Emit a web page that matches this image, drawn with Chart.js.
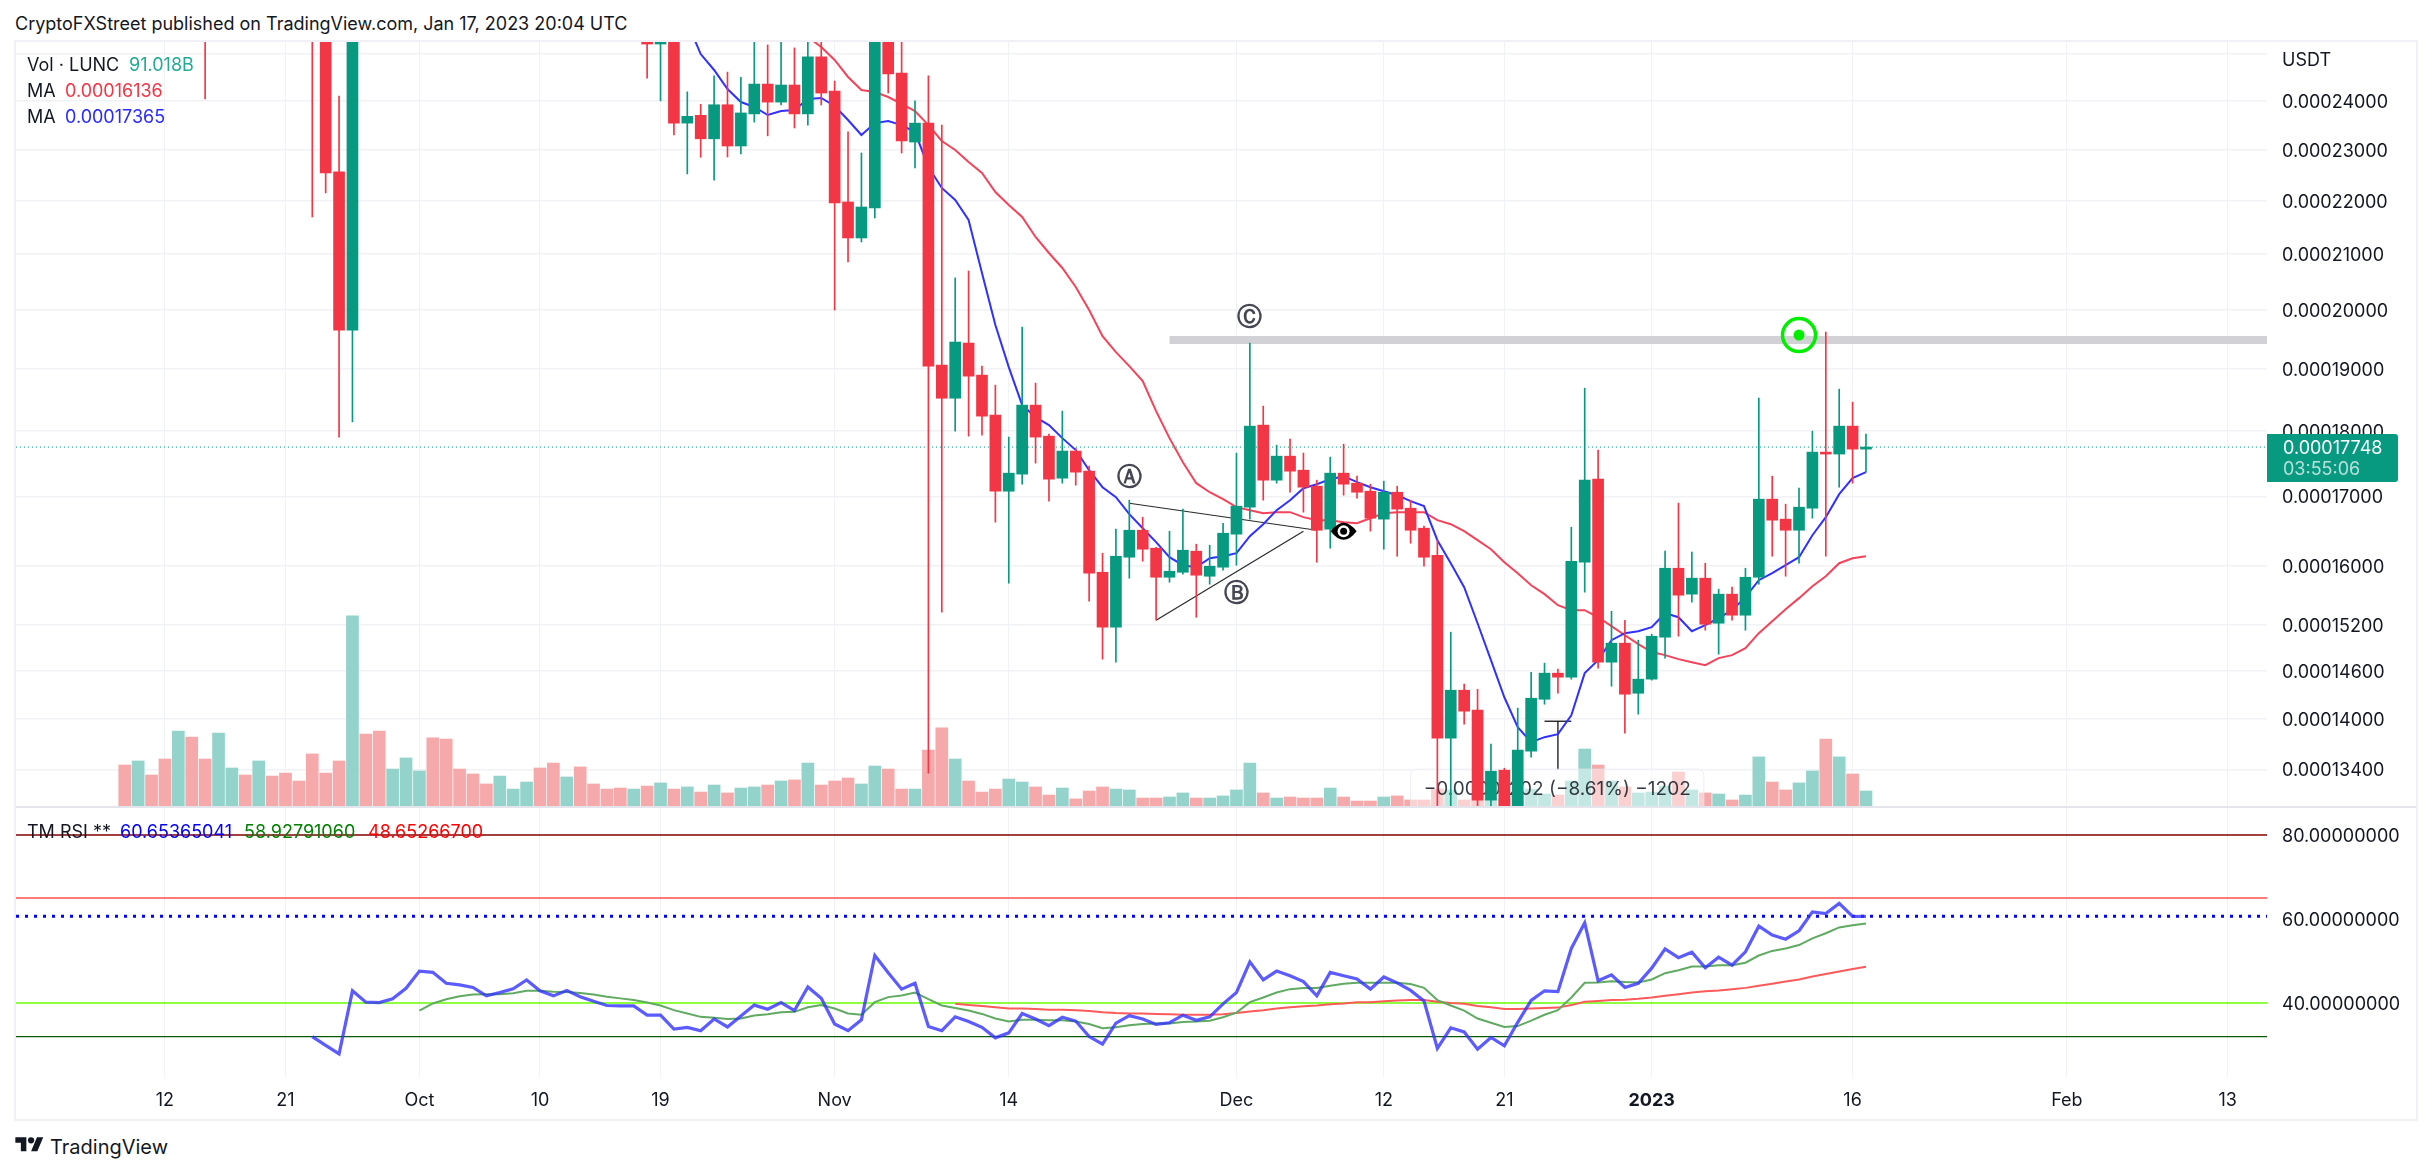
<!DOCTYPE html>
<html>
<head>
  <meta charset="utf-8">
  <title>LUNC / USDT daily chart</title>
  <script src="https://cdn.jsdelivr.net/npm/chart.js"></script>
  <style>
    html, body { margin: 0; padding: 0; background: #fff; }
    body { width: 2432px; height: 1172px; position: relative; overflow: hidden; font-family: Inter, sans-serif; color: #131722; }
    canvas { position: absolute; left: 16px; }
    #mainChart { top: 41px; }
    #rsiChart { top: 807px; }
    .txt { position: absolute; font-size: 18px; line-height: 22px; white-space: nowrap; }
    #frame { position: absolute; left: 14px; top: 40px; width: 2400px; height: 1077px; border: 2px solid #f0f0f6; pointer-events: none; }
    #sep { position: absolute; left: 16px; top: 806px; width: 2400px; height: 2px; background: #e3e4ec; }
    #priceBox { position: absolute; left: 2267px; top: 434px; width: 131px; height: 48px; background: #089981; border-radius: 0 3px 3px 0; }
  </style>
</head>
<body>
  <canvas id="mainChart" width="2399" height="766" style="width:2399px;height:766px"></canvas>
  <canvas id="rsiChart" width="2399" height="311" style="width:2399px;height:311px"></canvas>
  <div id="frame"></div>
  <div id="sep"></div>

  <div class="txt" style="left:15px;top:13px">CryptoFXStreet published on TradingView.com, Jan 17, 2023 20:04 UTC</div>

  <div class="txt" style="left:27px;top:54px">Vol · LUNC</div>
  <div class="txt" style="left:129px;top:54px;color:#22ab94">91.018B</div>
  <div class="txt" style="left:27px;top:80px">MA</div>
  <div class="txt" style="left:65px;top:80px;color:#f23645">0.00016136</div>
  <div class="txt" style="left:27px;top:106px">MA</div>
  <div class="txt" style="left:65px;top:106px;color:#2a2aff">0.00017365</div>

  <div class="txt" style="left:27px;top:821px">TM RSI **</div>
  <div class="txt" style="left:120px;top:821px;color:#0000ff">60.65365041</div>
  <div class="txt" style="left:244px;top:821px;color:#008000">58.92791060</div>
  <div class="txt" style="left:368px;top:821px;color:#ff0000">48.65266700</div>

  <div class="txt" style="left:2282px;top:49px">USDT</div>
  <div id="priceBox"></div>
  <div class="txt" style="left:2283px;top:437px;color:#fff">0.00017748</div>
  <div class="txt" style="left:2283px;top:458px;color:rgba(255,255,255,.7)">03:55:06</div>

  <svg style="position:absolute;left:15px;top:1134px" width="29" height="22" viewBox="0 0 36 28" fill="#131722">
    <path d="M14 22H7V11H0V4h14v18zM28 22h-8l7.5-18h8L28 22z"></path><circle cx="20" cy="8" r="4"></circle>
  </svg>
  <div class="txt" style="left:50px;top:1136px;font-size:20px">TradingView</div>

  <script>
    const gap = n => Array(n).fill(null);
    const offTop = 0.00026;   // candle part above the visible range
    const offLow = 0.000129;  // candle part below the visible range

    // days are counted from 12 Sep 2022, first bar is 9 Sep
    const firstDay = -3;
    const xMin = -11.12;
    const xMax = 156.94;
    const tickDays = [0, 9, 19, 28, 37, 50, 63, 80, 91, 100, 111, 126, 142, 154];
    const tickLabels = ['12', '21', 'Oct', '10', '19', 'Nov', '14', 'Dec', '12', '21', '2023', '16', 'Feb', '13'];
    const yearTickDay = 111;

    const priceTicks = [0.00025, 0.00024, 0.00023, 0.00022, 0.00021, 0.0002, 0.00019, 0.00018, 0.00017, 0.00016, 0.000152, 0.000146, 0.00014, 0.000134];
    const rsiTicks = [80, 60, 40];

    const opens = [...gap(15), offTop, 0.00022560, 0.00019654, ...gap(21),
      offTop, 0.00025220, offTop, 0.00023540, 0.00023700, 0.00023220, 0.00023920, 0.00023075, 0.00023730, 0.00024355,
      0.00023975, 0.00024335, 0.00023730, 0.00024940, 0.00024208, 0.00021976, 0.00021297, 0.00021861, offTop, 0.00024590,
      0.00023155, 0.00023540, 0.00019063, 0.00018520, 0.00019433, 0.00018897, 0.00018250, 0.00017078, 0.00017334, 0.00018409,
      0.00017918, 0.00017273, 0.00017686, 0.00017379, 0.00015913, 0.00015169, 0.00016123, 0.00016507, 0.00016250, 0.00015844,
      0.00015913, 0.00016208, 0.00015858, 0.00015983, 0.00016450, 0.00016842, 0.00018091, 0.00017243, 0.00017608, 0.00017394,
      0.00017153, 0.00016522, 0.00017349, 0.00017198, 0.00017078, 0.00016667, 0.00017063, 0.00016827, 0.00016536, 0.00016151,
      0.00013770, 0.00014358, 0.00014110, 0.00013046, 0.00013391, offLow, 0.00013615, 0.00014245, 0.00014573, 0.00014522,
      0.00016053, 0.00017258, 0.00014713, 0.00014959, 0.00014320, 0.00014497, 0.00015037, 0.00015969, 0.00015612, 0.00015831,
      0.00015221, 0.00015612, 0.00015328, 0.00015844, 0.00016960, 0.00016667, 0.00016507, 0.00016827, 0.00017670, 0.00017640,
      0.00018075, 0.00017716];
    const closes = [...gap(15), 0.00022540, 0.00019654, offTop, ...gap(21),
      0.00025220, offTop, 0.00023540, 0.00023680, 0.00023220, 0.00023920, 0.00023075, 0.00023750, 0.00024355, 0.00023975,
      0.00024335, 0.00023730, 0.00024940, 0.00024165, 0.00021957, 0.00021297, 0.00021880, offTop, 0.00024570, 0.00023175,
      0.00023540, 0.00019046, 0.00018520, 0.00019450, 0.00018880, 0.00018233, 0.00017078, 0.00017349, 0.00018409, 0.00017903,
      0.00017258, 0.00017686, 0.00017364, 0.00015900, 0.00015169, 0.00016137, 0.00016507, 0.00016236, 0.00015844, 0.00015927,
      0.00016222, 0.00015872, 0.00015997, 0.00016464, 0.00016857, 0.00018075, 0.00017243, 0.00017608, 0.00017379, 0.00017138,
      0.00016507, 0.00017349, 0.00017183, 0.00017063, 0.00016681, 0.00017063, 0.00016813, 0.00016507, 0.00016123, 0.00013770,
      0.00014358, 0.00014098, 0.00013046, 0.00013379, offLow, 0.00013627, 0.00014258, 0.00014573, 0.00014522, 0.00016067,
      0.00017243, 0.00014713, 0.00014959, 0.00014308, 0.00014497, 0.00015050, 0.00015969, 0.00015598, 0.00015831, 0.00015208,
      0.00015612, 0.00015328, 0.00015844, 0.00016960, 0.00016652, 0.00016507, 0.00016842, 0.00017670, 0.00017640, 0.00018075,
      0.00017716, 0.00017748];
    const highs = [...gap(6), offTop, ...gap(7), offTop, offTop, 0.00024100, offTop, ...gap(21),
      offTop, offTop, offTop, 0.00024190, 0.00023930, 0.00024530, 0.00024610, 0.00024500, offTop, 0.00025200,
      offTop, 0.00025135, offTop, offTop, 0.00024420, 0.00023360, 0.00022935, offTop, offTop, offTop,
      0.00024000, 0.00024530, 0.00023500, 0.00020568, 0.00020693, 0.00019046, 0.00018733, 0.00017903, 0.00019705, 0.00018766,
      0.00017950, 0.00018313, 0.00017732, 0.00017455, 0.00016180, 0.00016522, 0.00016945, 0.00016695, 0.00016264, 0.00016493,
      0.00016813, 0.00016307, 0.00016293, 0.00016608, 0.00017655, 0.00019433, 0.00018393, 0.00017778, 0.00017872, 0.00017655,
      0.00017243, 0.00017593, 0.00017794, 0.00017303, 0.00017183, 0.00017228, 0.00017153, 0.00016945, 0.00016565, 0.00016364,
      0.00015103, 0.00014434, 0.00014370, 0.00013698, 0.00013414, 0.00014135, 0.00014585, 0.00014701, 0.00014624, 0.00016551,
      0.00018683, 0.00017701, 0.00015381, 0.00015261, 0.00014998, 0.00015076, 0.00016208, 0.00016901, 0.00016194, 0.00016039,
      0.00015680, 0.00015707, 0.00015969, 0.00018521, 0.00017303, 0.00016886, 0.00017123, 0.00017996, 0.00019620, 0.00018667,
      0.00018457, 0.00017950];
    const lows = [...gap(6), 0.00024040, ...gap(7), 0.00021690, 0.00022150, 0.00017900, 0.00018140, ...gap(21),
      0.00024480, 0.00024000, 0.00023300, 0.00022520, 0.00022850, 0.00022400, 0.00022855, 0.00022915, 0.00023560, 0.00023280,
      0.00023915, 0.00023440, 0.00023500, 0.00023915, 0.00020000, 0.00020855, 0.00021223, 0.00021672, 0.00024165, 0.00022935,
      0.00022637, 0.00013355, 0.00015368, 0.00017996, 0.00017918, 0.00017934, 0.00016623, 0.00015762, 0.00017183, 0.00017501,
      0.00016930, 0.00017198, 0.00017168, 0.00015516, 0.00014752, 0.00014713, 0.00015830, 0.00016067, 0.00015261, 0.00015775,
      0.00015885, 0.00015301, 0.00015748, 0.00015941, 0.00016011, 0.00016667, 0.00016945, 0.00017198, 0.00017063, 0.00016769,
      0.00016053, 0.00016250, 0.00017019, 0.00016975, 0.00016493, 0.00016236, 0.00016137, 0.00016321, 0.00015997, offLow,
      offLow, 0.00013939, offLow, offLow, offLow, offLow, 0.00013544, 0.00014184, 0.00014320, 0.00014497,
      0.00015639, 0.00014637, 0.00014408, 0.00013830, 0.00014061, 0.00014484, 0.00014765, 0.00015050, 0.00015503, 0.00015129,
      0.00014816, 0.00015261, 0.00015129, 0.00015748, 0.00016137, 0.00015858, 0.00016039, 0.00016681, 0.00016137, 0.00017138,
      0.00017198, 0.00017364];

    // volume in billions, 1 = up day
    const volumes = [239, 262, 182, 273, 432, 398, 273, 421, 222, 182, 262, 176, 193, 148, 302, 193, 262, 1087, 415, 432,
      216, 279, 205, 393, 387, 216, 188, 131, 176, 102, 142, 222, 250, 171, 228, 131, 102, 108, 102, 119,
      137, 102, 114, 85, 125, 80, 108, 114, 125, 148, 154, 250, 125, 148, 165, 131, 233, 216, 102, 102,
      324, 450, 273, 148, 85, 102, 159, 142, 114, 68, 108, 46, 91, 114, 102, 97, 51, 51, 57, 80,
      51, 51, 63, 97, 250, 80, 51, 57, 51, 51, 108, 57, 34, 34, 57, 63, 40, 40, 102, 97,
      40, 68, 51, 51, 68, 102, 74, 68, 148, 330, 239, 148, 114, 80, 85, 119, 199, 97, 80, 74,
      40, 68, 285, 142, 97, 137, 205, 387, 285, 188, 91];
    const volumeUp = [0, 1, 0, 0, 1, 0, 0, 1, 1, 0, 1, 0, 0, 0, 0, 0, 0, 1, 0, 0,
      1, 1, 1, 0, 0, 0, 0, 0, 1, 1, 1, 0, 0, 1, 0, 0, 0, 0, 1, 0,
      1, 0, 1, 0, 1, 0, 1, 1, 0, 1, 0, 1, 0, 0, 0, 1, 1, 0, 0, 1,
      0, 0, 1, 0, 0, 0, 1, 1, 0, 0, 1, 0, 0, 0, 1, 1, 0, 0, 1, 1,
      0, 1, 1, 1, 1, 0, 1, 0, 0, 0, 1, 0, 0, 0, 1, 0, 0, 0, 0, 1,
      0, 0, 1, 0, 1, 1, 1, 0, 1, 1, 0, 1, 0, 1, 1, 1, 0, 1, 0, 1,
      0, 1, 1, 0, 0, 1, 1, 0, 1, 0, 1];

    const maFast = [...gap(42), 0.00025700, 0.00025000, 0.00024656, 0.00024250, 0.00023977, 0.00023873, 0.00023707, 0.00023790, 0.00023811,
      0.00024040, 0.00024061, 0.00023894, 0.00023604, 0.00023297, 0.00023540, 0.00023583, 0.00023500, 0.00023358, 0.00022657,
      0.00022246, 0.00022014, 0.00021634, 0.00020657, 0.00019740, 0.00019030, 0.00018409, 0.00018218, 0.00018091, 0.00017887,
      0.00017701, 0.00017394, 0.00017138, 0.00016989, 0.00016739, 0.00016536, 0.00016336, 0.00016123, 0.00016011, 0.00015983,
      0.00016109, 0.00016137, 0.00016180, 0.00016421, 0.00016594, 0.00016798, 0.00016945, 0.00017123, 0.00017183, 0.00017258,
      0.00017303, 0.00017213, 0.00017138, 0.00017078, 0.00017019, 0.00016930, 0.00016857, 0.00016364, 0.00016039, 0.00015707,
      0.00015221, 0.00014739, 0.00014270, 0.00013902, 0.00013722, 0.00013782, 0.00013818, 0.00014048, 0.00014573, 0.00014739,
      0.00014998, 0.00015090, 0.00015116, 0.00015169, 0.00015355, 0.00015301, 0.00015116, 0.00015195, 0.00015288, 0.00015395,
      0.00015571, 0.00015803, 0.00015900, 0.00016011, 0.00016123, 0.00016435, 0.00016696, 0.00017034, 0.00017273, 0.00017365];
    const maSlow = [...gap(51), 0.00025376, 0.00025156, 0.00024872, 0.00024506, 0.00024229, 0.00024187, 0.00024082, 0.00023936, 0.00023790,
      0.00023500, 0.00023176, 0.00022995, 0.00022755, 0.00022539, 0.00022168, 0.00021918, 0.00021690, 0.00021316, 0.00021020,
      0.00020747, 0.00020407, 0.00020001, 0.00019551, 0.00019280, 0.00019046, 0.00018799, 0.00018313, 0.00017887, 0.00017516,
      0.00017198, 0.00017063, 0.00016960, 0.00016842, 0.00016798, 0.00016754, 0.00016769, 0.00016769, 0.00016696, 0.00016652,
      0.00016652, 0.00016623, 0.00016608, 0.00016681, 0.00016754, 0.00016769, 0.00016769, 0.00016769, 0.00016652, 0.00016594,
      0.00016493, 0.00016364, 0.00016236, 0.00016053, 0.00015900, 0.00015734, 0.00015612, 0.00015462, 0.00015395, 0.00015395,
      0.00015301, 0.00015182, 0.00015063, 0.00014946, 0.00014843, 0.00014804, 0.00014752, 0.00014713, 0.00014675, 0.00014765,
      0.00014804, 0.00014894, 0.00015090, 0.00015248, 0.00015408, 0.00015558, 0.00015721, 0.00015858, 0.00016039, 0.00016109,
      0.00016136];

    const rsiValues = [...gap(14), 32.0, 29.9, 27.9, 42.9, 40.2, 40.1, 41.0, 43.5, 47.6, 47.3,
      44.7, 44.3, 43.7, 41.7, 42.5, 43.4, 45.5, 42.9, 41.7, 43.0,
      41.5, 40.4, 39.4, 39.3, 39.3, 37.1, 37.1, 33.8, 34.2, 33.4,
      36.2, 34.3, 36.9, 39.5, 38.5, 40.1, 38.2, 43.8, 41.1, 35.0,
      33.4, 36.0, 51.3, 47.2, 43.3, 44.7, 34.4, 33.4, 36.7, 35.6,
      34.2, 31.7, 32.9, 37.5, 36.2, 34.6, 36.6, 35.7, 32.0, 30.2,
      35.2, 37.0, 36.2, 34.9, 35.3, 37.1, 35.9, 36.7, 39.8, 42.5,
      49.8, 45.5, 47.6, 46.5, 45.1, 41.7, 47.3, 46.5, 45.7, 43.3,
      46.2, 44.8, 43.0, 40.5, 29.2, 34.1, 33.1, 29.0, 31.8, 29.8,
      35.4, 40.6, 42.9, 42.7, 53.0, 59.1, 45.3, 46.7, 43.7, 44.7,
      48.3, 52.9, 50.8, 52.1, 48.4, 50.9, 49.0, 52.2, 58.3, 56.2,
      55.2, 57.2, 61.7, 61.3, 63.7, 60.6, 60.65];
    const rsiSignal = [...gap(22), 38.2, 39.9, 40.9, 41.6, 42.0, 42.1, 42.1, 42.3, 42.9, 42.9,
      42.7, 42.6, 42.4, 42.0, 41.5, 41.1, 40.7, 40.1, 39.4, 38.3,
      37.5, 36.7, 36.5, 36.2, 36.3, 37.0, 37.3, 37.8, 37.9, 39.0,
      39.5, 38.7, 37.5, 37.2, 40.2, 41.4, 41.8, 42.5, 40.9, 39.4,
      38.8, 38.2, 37.4, 36.3, 35.6, 36.0, 36.0, 35.9, 35.9, 35.6,
      35.0, 34.0, 34.2, 34.7, 35.0, 35.1, 35.1, 35.5, 35.6, 35.8,
      36.6, 37.7, 40.2, 41.3, 42.5, 43.3, 43.6, 43.6, 44.1, 44.6,
      44.8, 44.8, 44.8, 44.8, 44.5, 43.6, 40.7, 39.4, 38.2, 36.3,
      35.3, 34.3, 34.5, 35.8, 37.2, 38.3, 41.3, 44.8, 44.9, 45.2,
      45.0, 44.9, 45.6, 47.1, 47.8, 48.7, 48.7, 49.0, 49.0, 49.6,
      51.3, 52.4, 53.0, 53.8, 55.4, 56.6, 58.0, 58.5, 58.93];
    const rsiLong = [...gap(62), 39.8, 39.5, 39.3, 39.0, 38.7, 38.7, 38.6, 38.4, 38.4, 38.3,
      38.1, 37.8, 37.6, 37.5, 37.5, 37.4, 37.3, 37.2, 37.2, 37.2,
      37.3, 37.6, 38.0, 38.3, 38.7, 39.0, 39.2, 39.4, 39.7, 39.9,
      40.2, 40.2, 40.4, 40.6, 40.7, 40.7, 40.3, 40.0, 39.8, 39.3,
      39.0, 38.6, 38.6, 38.7, 38.8, 38.9, 39.5, 40.3, 40.5, 40.7,
      40.8, 41.0, 41.3, 41.7, 42.1, 42.5, 42.8, 43.0, 43.3, 43.6,
      44.1, 44.6, 45.1, 45.6, 46.3, 46.9, 47.5, 48.1, 48.65];

    const lastPrice = 0.00017748;
    const resistancePrice = 0.00019483;
    const resistanceStartDay = 75;
    const trendUpper = [[72, 0.00016900], [86, 0.00016507]];
    const trendLower = [[74, 0.00015261], [85, 0.00016493]];
    const measureTop = [[103, 0.00013975], [105, 0.00013975]];
    const measureStem = [[104, 0.00013975], [104, 0.00013400]];
    const waveLabels = [['Ⓐ', 72, 0.00017303], ['Ⓑ', 80, 0.00015640], ['Ⓒ', 81, 0.00019880]];
    const eyeMark = [88, 0.00016493];
    const targetMark = [122, 0.00019568];
    const measureBox = [93, 114.9, 0.00013403];
    const measureText = '−0.00001202 (−8.61%) −1202';

    const rsiLevels = [80, 65, 40, 32];
    const rsiLevelColors = ['#800000', '#ff4c4c', '#66ff00', '#0b5a0b'];
    const rsiCurrent = 60.65365041;

    const UP = '#089981', DOWN = '#f23645';
    const FONT = 'Inter, sans-serif';
    const GRID = '#f1f2f6';

    const toPoints = arr => arr.map((v, i) => ({ x: firstDay + i, y: v }));
    const segment = pts => pts.map(p => ({ x: p[0], y: p[1] }));

    // shared x axis, both panes use the same days
    function xAxis(showLabels) {
      return {
        type: 'linear', min: xMin, max: xMax,
        offset: false,
        border: { display: false },
        grid: { color: GRID, drawTicks: false, offset: false },
        afterBuildTicks(axis) { axis.ticks = tickDays.map(v => ({ value: v })); },
        afterFit(axis) { axis.height = showLabels ? 41 : 0; axis.paddingLeft = 0; axis.paddingRight = 0; },
        ticks: {
          display: showLabels, autoSkip: false, maxRotation: 0, padding: 13, color: '#131722',
          font: ctx => ({ family: FONT, size: 18, weight: ctx.tick && ctx.tick.value === yearTickDay ? 'bold' : 'normal' }),
          callback: v => tickLabels[tickDays.indexOf(v)]
        }
      };
    }

    function fitYAxis(axis) {
      axis.width = 148;
      axis.paddingTop = 0;
      axis.paddingBottom = 0;
    }

    // Candles: wicks and bodies are two floating bar sets
    const wickData = [], wickColors = [], bodyData = [], bodyColors = [];
    opens.forEach((o, i) => {
      const color = closes[i] > o ? UP : DOWN;
      if (highs[i] !== null) {
        wickData.push({ x: firstDay + i, y: [lows[i], highs[i]] });
        wickColors.push(color);
      }
      if (o !== null) {
        bodyData.push({ x: firstDay + i, y: [o, closes[i]] });
        bodyColors.push(color);
      }
    });

    const WICK_INDEX = 1;
    const drawingsPlugin = {
      id: 'drawings',
      beforeDatasetDraw(chart, args) {
        if (args.index !== WICK_INDEX) return;
        // measure tool label sits under the candles
        const ctx = chart.ctx, x = chart.scales.x, y = chart.scales.y;
        const left = x.getPixelForValue(measureBox[0]), right = x.getPixelForValue(measureBox[1]);
        const top = y.getPixelForValue(measureBox[2]);
        ctx.save();
        ctx.beginPath();
        ctx.roundRect(left, top, right - left, chart.chartArea.bottom - top + 12, 6);
        ctx.fillStyle = 'rgba(255,255,255,.45)';
        ctx.fill();
        ctx.strokeStyle = 'rgba(230,232,240,.7)';
        ctx.stroke();
        ctx.fillStyle = 'rgba(19,23,34,.85)';
        ctx.font = '19px ' + FONT;
        ctx.textAlign = 'center';
        ctx.textBaseline = 'middle';
        ctx.fillText(measureText, (left + right) / 2, top + 20);
        ctx.restore();
      },
      afterDatasetsDraw(chart) {
        const ctx = chart.ctx, x = chart.scales.x, y = chart.scales.y;
        ctx.save();
        ctx.fillStyle = '#454652';
        ctx.font = 'bold 25px "DejaVu Sans"';
        ctx.textAlign = 'center';
        ctx.textBaseline = 'middle';
        waveLabels.forEach(w => ctx.fillText(w[0], x.getPixelForValue(w[1]), y.getPixelForValue(w[2]) + 2));

        // eye icon
        const ex = x.getPixelForValue(eyeMark[0]), ey = y.getPixelForValue(eyeMark[1]);
        ctx.fillStyle = '#000';
        ctx.beginPath();
        ctx.moveTo(ex - 13, ey);
        ctx.quadraticCurveTo(ex, ey - 17, ex + 13, ey);
        ctx.quadraticCurveTo(ex, ey + 17, ex - 13, ey);
        ctx.fill();
        ctx.fillStyle = '#fff';
        ctx.beginPath();
        ctx.arc(ex, ey, 6, 0, Math.PI * 2);
        ctx.fill();
        ctx.fillStyle = '#000';
        ctx.beginPath();
        ctx.arc(ex, ey, 3.5, 0, Math.PI * 2);
        ctx.fill();

        // green target
        const tx = x.getPixelForValue(targetMark[0]), ty = y.getPixelForValue(targetMark[1]);
        ctx.strokeStyle = '#00ee00';
        ctx.lineWidth = 3.5;
        ctx.beginPath();
        ctx.arc(tx, ty, 16.5, 0, Math.PI * 2);
        ctx.stroke();
        ctx.fillStyle = '#00ee00';
        ctx.beginPath();
        ctx.arc(tx, ty, 5.5, 0, Math.PI * 2);
        ctx.fill();
        ctx.restore();
      }
    };

    function plainLine(data, color, width, order, extra) {
      return Object.assign({
        type: 'line', data: data, borderColor: color, borderWidth: width,
        pointRadius: 0, tension: 0, order: order, yAxisID: 'y'
      }, extra || {});
    }

    new Chart(document.getElementById('mainChart'), {
      data: {
        datasets: [
          { type: 'bar', data: bodyData, backgroundColor: bodyColors, barThickness: 11, grouped: false, order: 1, yAxisID: 'y' },
          { type: 'bar', data: wickData, backgroundColor: wickColors, barThickness: 1, grouped: false, order: 2, yAxisID: 'y' },
          plainLine(toPoints(maFast), '#3030ff', 2, 3),
          plainLine(toPoints(maSlow), '#f4435a', 2, 4),
          plainLine(segment(trendUpper), '#2a2a2a', 1.2, 5),
          plainLine(segment(trendLower), '#2a2a2a', 1.2, 5),
          plainLine(segment(measureTop), '#000', 1.2, 5),
          plainLine(segment(measureStem), '#000', 1.2, 5),
          plainLine(segment([[resistanceStartDay, resistancePrice], [xMax, resistancePrice]]), '#d1d1d6', 8, 6),
          plainLine(segment([[xMin, lastPrice], [xMax, lastPrice]]), UP, 1, 6, { borderDash: [1, 3] }),
          {
            type: 'bar', data: toPoints(volumes), yAxisID: 'vol', barThickness: 12, grouped: false, order: 7,
            backgroundColor: volumeUp.map(u => (u ? '#93d3cb' : '#f6a9ab'))
          }
        ]
      },
      plugins: [drawingsPlugin],
      options: {
        responsive: false,
        animation: false,
        plugins: { legend: { display: false }, tooltip: { enabled: false } },
        layout: { padding: 0 },
        scales: {
          x: xAxis(false),
          y: {
            type: 'logarithmic', position: 'right',
            min: 0.00012968, max: 0.00025287,
            border: { display: false },
            grid: { color: GRID, lineWidth: 1.5, drawTicks: false },
            afterBuildTicks(axis) { axis.ticks = priceTicks.map(v => ({ value: v })); },
            afterFit: fitYAxis,
            ticks: {
              autoSkip: false, padding: 15, labelOffset: 1.5, color: '#131722', font: { family: FONT, size: 18 },
              callback: v => (v === 0.00025 ? '' : v.toFixed(8))
            }
          },
          vol: { type: 'linear', display: false, min: 0, max: 4358 }
        }
      }
    });

    new Chart(document.getElementById('rsiChart'), {
      data: {
        datasets: [
          plainLine(toPoints(rsiValues), 'rgba(50,50,255,.8)', 3.2, 1),
          plainLine(toPoints(rsiSignal), '#60aa62', 2, 2),
          plainLine(toPoints(rsiLong), '#ff5a5a', 2, 3),
          plainLine(segment([[xMin, rsiCurrent], [xMax, rsiCurrent]]), '#0000ff', 3, 4, { borderDash: [3, 6] })
        ].concat(rsiLevels.map((v, i) => plainLine(segment([[xMin, v], [xMax, v]]), rsiLevelColors[i], 1.3, 5)))
      },
      options: {
        responsive: false,
        animation: false,
        plugins: { legend: { display: false }, tooltip: { enabled: false } },
        layout: { padding: 0 },
        scales: {
          x: xAxis(true),
          y: {
            type: 'linear', position: 'right', min: 22.38, max: 86.67,
            border: { display: false },
            grid: { display: false, drawTicks: false },
            afterBuildTicks(axis) { axis.ticks = rsiTicks.map(v => ({ value: v })); },
            afterFit: fitYAxis,
            ticks: {
              autoSkip: false, padding: 15, labelOffset: 1.5, color: '#131722', font: { family: FONT, size: 18 },
              callback: v => v.toFixed(8)
            }
          }
        }
      }
    });
  </script>
</body>
</html>
